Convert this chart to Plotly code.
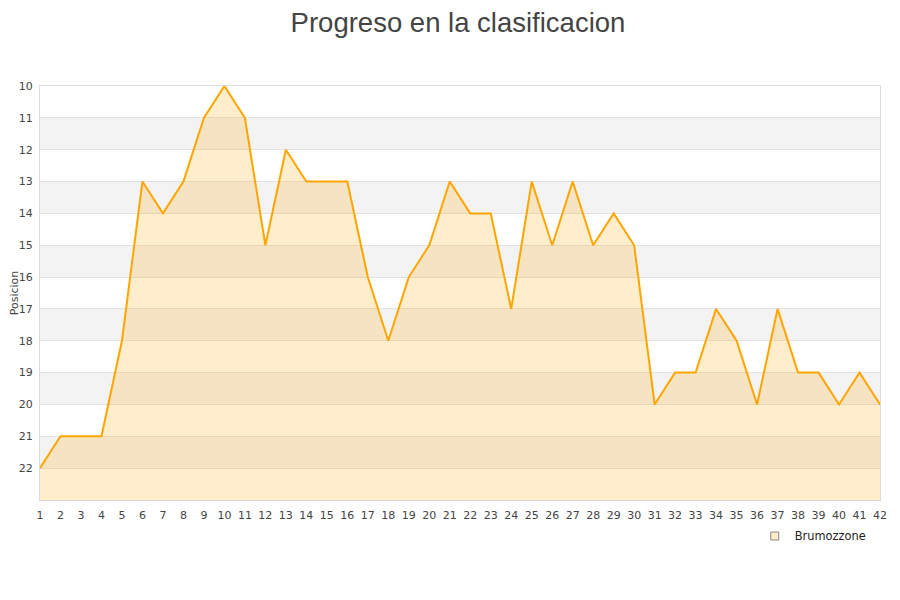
import plotly.graph_objects as go

# Jornadas y posiciones
jornadas = list(range(1, 43))
posiciones = [22, 21, 21, 21, 18, 13, 14, 13, 11, 10, 11, 15, 12, 13, 13, 13, 16, 18, 16, 15,
              13, 14, 14, 17, 13, 15, 13, 15, 14, 15, 20, 19, 19, 17, 18, 20, 17, 19, 19, 20,
              19, 20]
equipo = "Brumozzone"
titulo = "Progreso en la clasificacion"
fondo_tabla = 23  # parte baja del eje

fig = go.Figure()

# Bandas alternas
for p in range(11, 23, 2):
    fig.add_shape(type="rect", xref="paper", yref="y", x0=0, x1=1, y0=p, y1=p + 1,
                  fillcolor="#f3f3f3", line_width=0, layer="below")

# Base para el relleno
fig.add_trace(go.Scatter(x=jornadas, y=[fondo_tabla] * len(jornadas), mode="lines",
                         line=dict(width=0), showlegend=False, hoverinfo="skip"))
fig.add_trace(go.Scatter(x=jornadas, y=posiciones, mode="lines", name=equipo,
                         line=dict(color="#FFA500", width=2),
                         fill="tonexty", fillcolor="rgba(255,165,0,0.2)", showlegend=False))
# Entrada de la leyenda
fig.add_trace(go.Scatter(x=[None], y=[None], mode="markers", name=equipo,
                         marker=dict(symbol="square", size=8, color="#FFEBC8",
                                     line=dict(color="#888", width=1))))

fig.update_layout(
    width=900, height=600,
    margin=dict(l=32, r=28, t=78, b=108),
    paper_bgcolor="white", plot_bgcolor="white",
    font=dict(family="DejaVu Sans", size=11, color="#444"),
    title=dict(text=titulo, x=0.5, xanchor="center", yref="container", y=0.992, yanchor="top",
               pad=dict(t=0, b=0), font=dict(family="Liberation Sans", size=27.5, color="#444")),
    legend=dict(x=0.989, xanchor="right", y=-0.087, yanchor="middle", bgcolor="rgba(0,0,0,0)",
                font=dict(size=11.4, color="#222")),
    showlegend=True,
)
fig.update_xaxes(range=[1, 42], tickmode="linear", tick0=1, dtick=1, showgrid=False,
                 zeroline=False, showline=True, linecolor="#ddd", mirror=True,
                 ticklabelstandoff=5, automargin=False,
                 tickfont=dict(size=11, color="#444"))
fig.update_yaxes(range=[23, 10], tickmode="array", tickvals=list(range(10, 23)),
                 showgrid=True, gridcolor="#e2e2e2", zeroline=False, showline=True,
                 linecolor="#ddd", mirror=True, ticklabelstandoff=4, automargin=False,
                 title=dict(text="Posicion", standoff=3, font=dict(size=11, color="#444")),
                 tickfont=dict(size=11, color="#444"))

fig.write_html("out.html")
